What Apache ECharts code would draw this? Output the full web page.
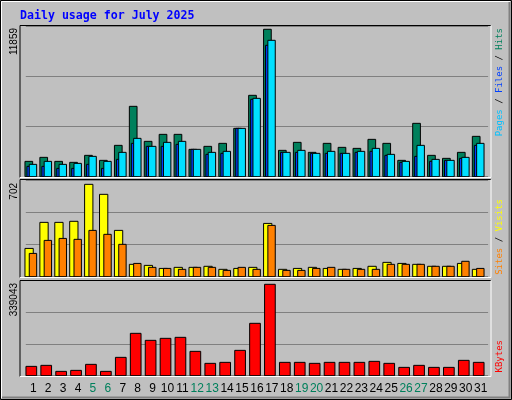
<!DOCTYPE html>
<html><head><meta charset="utf-8">
<script src="https://cdn.jsdelivr.net/npm/echarts@6/dist/echarts.min.js"></script>
<style>html,body{margin:0;padding:0;background:#c0c0c0}#c{width:512px;height:400px}</style>
</head><body><div id="c"></div>
<script>
const days = ['1','2','3','4','5','6','7','8','9','10','11','12','13','14','15','16','17','18','19','20','21','22','23','24','25','26','27','28','29','30','31'];
const weekendIdx = [4,5,11,12,18,19,25,26];
const hits  = [1234,1556,1234,1154,1717,1315,2522,5661,2844,3407,3407,2200,2441,2683,3890,6547,11859,2120,2763,1959,2683,2361,2280,3005,2683,1315,4293,1717,1476,1959,3246];
const files = [832,832,671,671,993,671,1395,2683,2441,2441,2602,2200,1798,1878,3890,6225,10571,1959,1959,1878,1878,1878,1959,2039,1717,1154,1637,1234,1315,1476,2522];
const pages = [993,1234,993,1073,1637,1234,1959,3085,2441,2763,2844,2200,1959,2039,3890,6305,10973,1959,2120,1878,2039,1878,2039,2280,1798,1234,2522,1395,1315,1556,2683];
const visits = [215,413,413,421,702,626,352,94,86,63,71,71,79,56,63,71,405,56,63,71,63,56,63,79,109,101,94,79,79,101,56];
const sites  = [177,276,291,284,352,322,246,101,71,63,56,71,71,48,71,56,390,48,48,63,71,56,56,56,94,94,94,79,79,117,63];
const kbytes = [34647,38360,16085,19800,42070,16085,68060,157150,131163,138590,142300,90330,45785,49496,94044,194273,339043,49496,49496,45785,49496,49496,49496,53209,45785,30935,38360,30935,30935,56921,49496];
const maxLabels = ['11859','702','339043'];

const chart = echarts.init(document.getElementById('c'), null, {renderer:'canvas'});
function bar(dx0, dx1, color){
  return function(params, api){
    const top = api.coord([api.value(0), api.value(1)]);
    const base = api.coord([api.value(0), 0]);
    return {type:'rect', shape:{x:top[0]+dx0, y:top[1], width:dx1-dx0, height:base[1]-top[1]},
      style:{fill:color, stroke:'#000', lineWidth:1}};
  };
}
function ser(data, gi, dx0, dx1, color, z){
  return {type:'custom', xAxisIndex:gi, yAxisIndex:gi, z:z||2,
    data:data.map((v,i)=>[i,v]), renderItem:bar(dx0,dx1,color), encode:{x:0,y:1}};
}
const L = 25.8, W = 462.3;
const grids = [
  {left:L, width:W, top:26, height:150.7},
  {left:L, width:W, top:180, height:96.7},
  {left:L, width:W, top:280.7, height:95}
];
const ymax = [12124, 735, 352400];
const xAxes = grids.map((g,i)=>({type:'category', gridIndex:i, data:days, boundaryGap:true,
  axisLine:{show:false}, axisTick:{show:false},
  axisLabel:{show:i===2, margin:7, fontFamily:'Liberation Sans', fontSize:12, color:'#000', interval:0,
    formatter:(v,idx)=> weekendIdx.indexOf(idx)>=0 ? '{w|'+v+'}' : v,
    rich:{w:{color:'#00805c', fontFamily:'Liberation Sans', fontSize:12}}}}));
const yAxes = grids.map((g,i)=>({type:'value', gridIndex:i, min:0, max:ymax[i], interval:ymax[i]/3,
  axisLabel:{show:false}, axisLine:{show:false}, axisTick:{show:false},
  splitLine:{show:true, lineStyle:{color:'#808080', width:1}}}));

function frame(y0,y1){
  return [
    {type:'polyline', shape:{points:[[20,y1],[20,y0],[491,y0]]}, style:{stroke:'#000', lineWidth:1, fill:null}, z:10},
    {type:'polyline', shape:{points:[[20,y1],[491,y1],[491,y0]]}, style:{stroke:'#fff', lineWidth:1, fill:null}, z:10}
  ];
}
function vtext(x, yTop, parts, size){
  return {type:'text', x:x, y:yTop, rotation:Math.PI/2, z:10,
    style:{text:parts.map(p=>'{'+p[1]+'|'+p[0]+'}').join(''), align:'right', verticalAlign:'middle',
      rich:{a:{fill:'#00c0ff',font:'9px DejaVu Sans Mono'}, b:{fill:'#0040ff',font:'9px DejaVu Sans Mono'},
        c:{fill:'#00805c',font:'9px DejaVu Sans Mono'}, k:{fill:'#000',font:'9px DejaVu Sans Mono'},
        y:{fill:'#ffff00',font:'9px DejaVu Sans Mono'}, o:{fill:'#ff8000',font:'9px DejaVu Sans Mono'},
        r:{fill:'#ff0000',font:'9px DejaVu Sans Mono'}}}};
}
function ylab(y, t){
  return {type:'text', x:14, y:y, rotation:Math.PI/2, z:10,
    style:{text:t, align:'right', verticalAlign:'middle', font:'10px Liberation Sans', fill:'#000'}};
}
const graphics = [
  {type:'rect', shape:{x:0.5,y:0.5,width:511,height:399}, style:{fill:'#c0c0c0', stroke:'#000', lineWidth:1}, z:-10},
  {type:'polyline', shape:{points:[[1.5,398],[1.5,1.5],[510,1.5]]}, style:{stroke:'#fff', lineWidth:1, fill:null}, z:-9},
  {type:'polyline', shape:{points:[[2,397.5],[509.5,397.5],[509.5,2]]}, style:{stroke:'#808080', lineWidth:2, fill:null}, z:-9},
  {type:'text', x:20, y:16, z:10, style:{text:'Daily usage for July 2025', font:'bold 11.6px DejaVu Sans Mono', fill:'#0000ff', verticalAlign:'middle'}},
  ...frame(25.5,177.5), ...frame(179.5,277.5), ...frame(280.5,376.5),
  ylab(28,maxLabels[0]), ylab(183,maxLabels[1]), ylab(283,maxLabels[2]),
  vtext(500, 28, [['Pages','a'],[' / ','k'],['Files','b'],[' / ','k'],['Hits','c']]),
  vtext(500, 199, [['Sites','o'],[' / ','k'],['Visits','y']]),
  vtext(500, 340, [['KBytes','r']])
];
chart.setOption({
  animation:false, backgroundColor:'#c0c0c0',
  grid:grids, xAxis:xAxes, yAxis:yAxes, graphic:graphics,
  series:[
    ser(hits,0,-8.3,-0.6,'#00805c',2),
    ser(files,0,-6.3,-3.3,'#0040ff',3),
    ser(pages,0,-4,3.4,'#00e0ff',4),
    ser(visits,1,-8.3,0,'#ffff00',2),
    ser(sites,1,-4,3.4,'#ff8000',3),
    ser(kbytes,2,-7.3,3.4,'#ff0000',2)
  ]
});
</script></body></html>
